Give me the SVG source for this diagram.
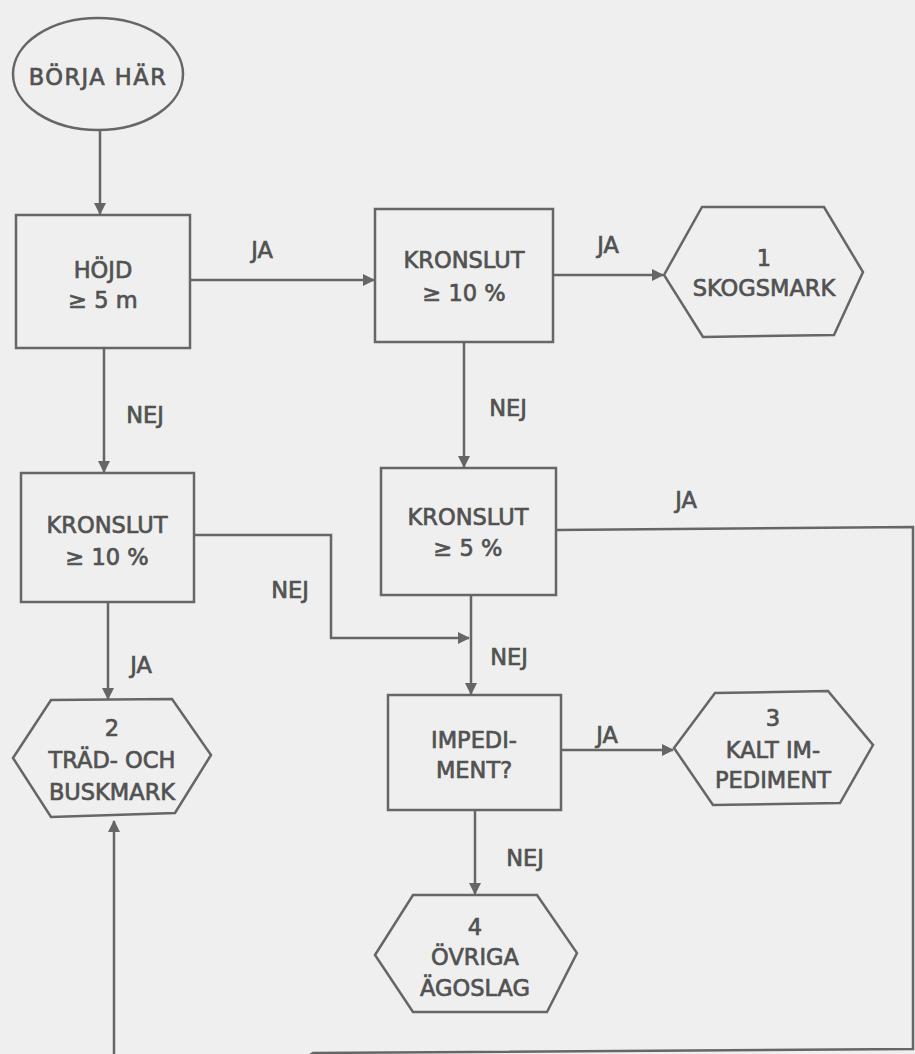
<svg xmlns="http://www.w3.org/2000/svg" width="915" height="1054" viewBox="0 0 915 1054">
<style>
.bg{fill:#efefef}
.shape{fill:none;stroke:#666;stroke-width:2.5;stroke-linejoin:miter}
.conn{fill:none;stroke:#666;stroke-width:2.5}
text{font-family:"DejaVu Sans","Liberation Sans",sans-serif;font-size:22.5px;fill:#525252;stroke:#525252;stroke-width:0.7;text-anchor:middle}
</style>
<defs>
<marker id="arr" viewBox="0 0 12 12" refX="11" refY="6" markerWidth="12" markerHeight="12" markerUnits="userSpaceOnUse" orient="auto">
<path d="M0,0 L12,6 L0,12 Z" fill="#666"/>
</marker>
</defs>
<rect class="bg" x="0" y="0" width="915" height="1054"/>

<g id="connectors">
<path class="conn" d="M100,130 V214" marker-end="url(#arr)"/>
<path class="conn" d="M190,280 H374" marker-end="url(#arr)"/>
<path class="conn" d="M553,275 H663" marker-end="url(#arr)"/>
<path class="conn" d="M464,342 V467" marker-end="url(#arr)"/>
<path class="conn" d="M104,348 V472" marker-end="url(#arr)"/>
<path class="conn" d="M194,535 H331 V638 H469" marker-end="url(#arr)"/>
<path class="conn" d="M471,595 V694" marker-end="url(#arr)"/>
<path class="conn" d="M556,530 L913,527 V1049 L313,1053 L300,1062 H114 V821" marker-end="url(#arr)"/>
<path class="conn" d="M108,602 V699" marker-end="url(#arr)"/>
<path class="conn" d="M561,750 H673" marker-end="url(#arr)"/>
<path class="conn" d="M475,810 V894" marker-end="url(#arr)"/>
<text x="262" y="258">JA</text>
<text x="608" y="253">JA</text>
<text x="145" y="423">NEJ</text>
<text x="508" y="416">NEJ</text>
<text x="290" y="598">NEJ</text>
<text x="141" y="673">JA</text>
<text x="686" y="508">JA</text>
<text x="509" y="665">NEJ</text>
<text x="607" y="743">JA</text>
<text x="525" y="866">NEJ</text>
</g>

<g id="start">
<ellipse class="shape" cx="98" cy="74" rx="85" ry="56"/>
<text x="98" y="85" letter-spacing="1.5">BÖRJA HÄR</text>
</g>

<g id="hojd">
<rect class="shape" x="16" y="215" width="174" height="133"/>
<text x="103" y="278">HÖJD</text>
<text x="103" y="308">≥ 5 m</text>
</g>

<g id="kronslut10a">
<rect class="shape" x="375" y="209" width="178" height="133"/>
<text x="464" y="268">KRONSLUT</text>
<text x="464" y="301">≥ 10 %</text>
</g>

<g id="skogsmark">
<polygon class="shape" points="664,275 702,207 824,207 863,272 834,335 703,337"/>
<text x="764" y="266">1</text>
<text x="764" y="296">SKOGSMARK</text>
</g>

<g id="kronslut10b">
<rect class="shape" x="21" y="473" width="173" height="129"/>
<text x="107" y="533">KRONSLUT</text>
<text x="107" y="565">≥ 10 %</text>
</g>

<g id="kronslut5">
<rect class="shape" x="381" y="468" width="175" height="127"/>
<text x="468" y="525">KRONSLUT</text>
<text x="468" y="556">≥ 5 %</text>
</g>

<g id="tradbusk">
<polygon class="shape" points="13,758 51,700 172,699 211,755 175,813 51,817"/>
<text x="112" y="736">2</text>
<text x="112" y="768">TRÄD- OCH</text>
<text x="112" y="800">BUSKMARK</text>
</g>

<g id="impediment">
<rect class="shape" x="388" y="695" width="173" height="115"/>
<text x="474" y="748">IMPEDI-</text>
<text x="474" y="778">MENT?</text>
</g>

<g id="kaltimpediment">
<polygon class="shape" points="674,748 715,693 828,691 873,745 840,803 713,805"/>
<text x="773" y="726">3</text>
<text x="773" y="758">KALT IM-</text>
<text x="773" y="788">PEDIMENT</text>
</g>

<g id="ovriga">
<polygon class="shape" points="375,955 413,895 537,895 577,953 547,1012 413,1012"/>
<text x="475" y="935">4</text>
<text x="475" y="965">ÖVRIGA</text>
<text x="475" y="996">ÄGOSLAG</text>
</g>
</svg>
